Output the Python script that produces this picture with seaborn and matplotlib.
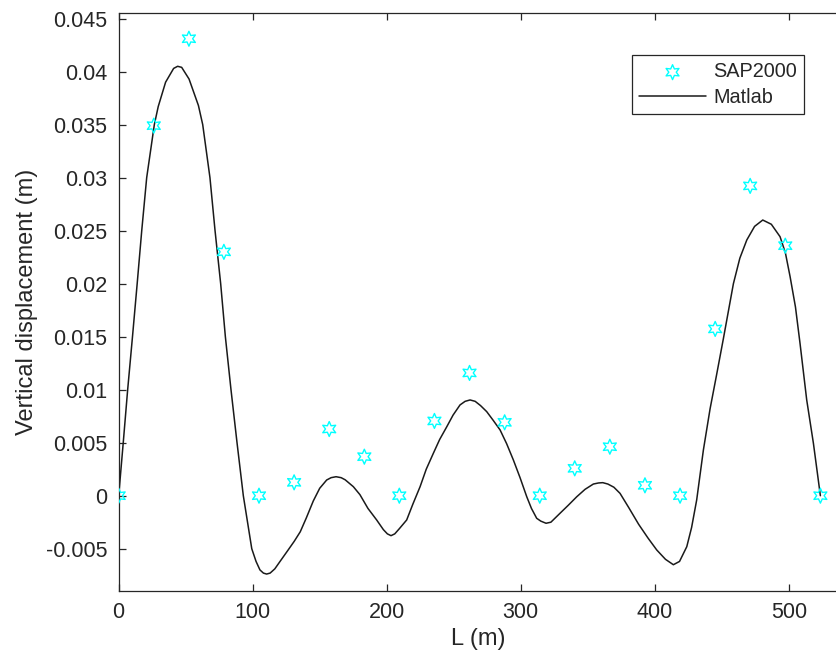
import matplotlib
matplotlib.use("Agg")
import matplotlib.pyplot as plt
import seaborn as sns
import pandas as pd

# SAP2000 results (hexagram markers)
sap_x = [0.0, 26.2, 52.4, 78.5, 104.7, 130.9, 157.1, 183.3, 209.4, 235.6, 261.8,
         288.0, 314.2, 340.3, 366.5, 392.7, 418.9, 445.1, 471.2, 497.4, 523.6]
sap_y = [0.0, 0.0349, 0.0431, 0.0230, 0.0, 0.00126, 0.00629, 0.00368, 0.0, 0.00705, 0.01158,
         0.00692, 0.0, 0.00258, 0.00462, 0.00098, 0.0, 0.01573, 0.02922, 0.02358, 0.0]

# Matlab curve
mat_x = [0.0, 3.4, 6.7, 10.3, 13.8, 17.2, 20.9, 26.6, 29.5, 35.0, 41.0, 44.0, 47.0, 52.5, 59.5,
         62.7, 68.1, 71.9, 76.1, 79.6, 83.8, 88.3, 93.0, 99.3, 102.5, 105.4, 108.0, 110.4,
         113.0, 116.5, 120.4, 126.0, 131.0, 135.5, 140.0, 145.2, 150.0, 155.2, 158.5, 162.2, 166.0,
         169.0, 175.1, 180.0, 186.0, 192.5, 197.5, 200.5, 203.2, 206.0, 209.5, 214.9, 219.5,
         224.9, 229.5, 234.8, 239.5, 244.8, 249.5, 254.7, 258.5, 262.2, 266.0, 270.0, 274.6,
         279.5, 284.6, 289.5, 294.5, 299.5, 304.5, 308.0, 311.9, 315.0, 318.9, 322.5, 329.3,
         335.5, 341.8, 348.0, 354.2, 358.0, 361.2, 365.0, 369.5, 374.1, 380.5, 388.0, 395.0,
         401.5, 408.0, 413.9, 418.5, 423.9, 427.5, 431.3, 436.3, 441.3, 446.0, 451.2, 458.7,
         463.5, 468.7, 474.5, 480.6, 487.0, 493.5, 497.5, 501.0, 505.0, 508.4, 513.4, 518.4, 523.6]
mat_y = [0.0, 0.005, 0.010, 0.015, 0.020, 0.025, 0.030, 0.035, 0.0367, 0.0390, 0.0403, 0.0405, 0.0404, 0.0393, 0.0368,
         0.035, 0.030, 0.025, 0.020, 0.015, 0.010, 0.005, 0.0, -0.005, -0.0062, -0.0070, -0.0073, -0.00739,
         -0.0073, -0.0069, -0.0062, -0.0052, -0.0043, -0.0034, -0.0021, -0.0005, 0.0007, 0.00148, 0.0017, 0.00179, 0.0017,
         0.0015, 0.00085, 0.0001, -0.0012, -0.00229, -0.0032, -0.0036, -0.00377, -0.0036, -0.0031, -0.00229, -0.0008,
         0.00085, 0.0025, 0.0040, 0.0053, 0.0065, 0.0076, 0.00856, 0.0089, 0.00903, 0.0089, 0.0085, 0.00793,
         0.0071, 0.0062, 0.0049, 0.00337, 0.0017, -0.0001, -0.0012, -0.00213, -0.0024, -0.0026, -0.0025, -0.00166,
         -0.0009, -0.0001, 0.0006, 0.0011, 0.0012, 0.00123, 0.0011, 0.0008, 0.00022, -0.0011, -0.0027, -0.0040,
         -0.00512, -0.0060, -0.00651, -0.0062, -0.00481, -0.0030, -0.0004, 0.00431, 0.0082, 0.0113, 0.0148, 0.0200,
         0.0224, 0.02412, 0.0254, 0.0260, 0.0256, 0.02443, 0.0229, 0.02066, 0.0178, 0.01438, 0.00903, 0.00494, 0.0]

x_ticks = [0, 100, 200, 300, 400, 500]
y_ticks = [-0.005, 0, 0.005, 0.01, 0.015, 0.02, 0.025, 0.03, 0.035, 0.04, 0.045]
y_tick_labels = ["-0.005", "0", "0.005", "0.01", "0.015", "0.02", "0.025", "0.03", "0.035", "0.04", "0.045"]

sns.set_style("white")
plt.rcParams['font.family'] = ['Liberation Sans', 'DejaVu Sans']

fig = plt.figure(figsize=(8.37, 6.64), dpi=100)
ax = fig.add_axes([0.1418, 0.1104, 0.8582, 0.8696])

sap_df = pd.DataFrame({"x": sap_x, "y": sap_y})
mat_df = pd.DataFrame({"x": mat_x, "y": mat_y})

sns.scatterplot(data=sap_df, x="x", y="y", ax=ax, marker=(6, 1, 0), s=115,
                facecolor="none", edgecolor="#00FFFF", linewidth=1.0, label="SAP2000", zorder=3)
sns.lineplot(data=mat_df, x="x", y="y", ax=ax, color="#1a1a1a", linewidth=1.1,
             estimator=None, sort=False, label="Matlab", zorder=2)

ax.set_xlim(0, 536)
ax.set_ylim(-0.00896, 0.0455)
ax.set_xticks(x_ticks)
ax.set_xticklabels([str(t) for t in x_ticks])
ax.set_yticks(y_ticks)
ax.set_yticklabels(y_tick_labels)

gray = "#262626"
for side in ["left", "bottom", "top"]:
    ax.spines[side].set_visible(True)
    ax.spines[side].set_color(gray)
    ax.spines[side].set_linewidth(0.9)
ax.spines["right"].set_visible(False)

ax.tick_params(axis="both", direction="in", length=5, width=0.9, color=gray,
               labelcolor=gray, labelsize=15.5, pad=8)
ax.tick_params(axis="x", top=True, bottom=True)
ax.tick_params(axis="y", left=True, right=False)

ax.set_xlabel("L (m)", fontsize=17, color=gray, labelpad=4)
ax.set_ylabel("Vertical displacement (m)", fontsize=17, color=gray, labelpad=6)

leg = ax.legend(loc="upper right", bbox_to_anchor=(0.954, 0.927), fontsize=14.3,
                frameon=True, fancybox=False, edgecolor=gray, framealpha=1,
                handlelength=3.4, borderpad=0.35, labelspacing=0.35, handletextpad=0.35,
                borderaxespad=0)
leg.get_frame().set_linewidth(0.9)

fig.savefig("out.png", dpi=100)
